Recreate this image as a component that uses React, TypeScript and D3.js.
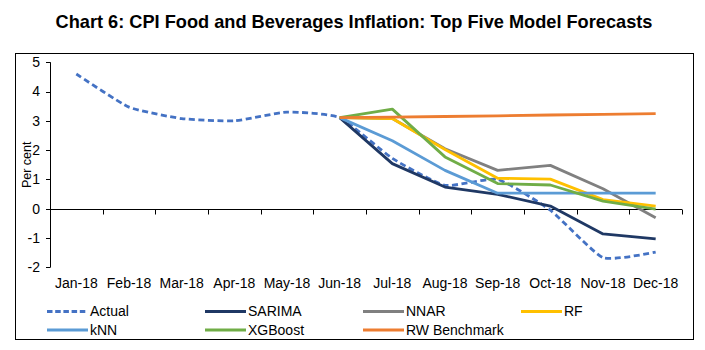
import React, { useRef, useEffect } from "react";
import { select, scaleBand, scaleLinear, line, curveCardinal, curveLinear } from "d3";

// months on the x axis
const months = [
  "Jan-18", "Feb-18", "Mar-18", "Apr-18", "May-18", "Jun-18",
  "Jul-18", "Aug-18", "Sep-18", "Oct-18", "Nov-18", "Dec-18",
];
const forecastMonths = months.slice(5);

const actual = [4.6, 3.47, 3.08, 3.0, 3.3, 3.11, 1.72, 0.8, 1.0, -0.05, -1.67, -1.48];
const sarima = [3.11, 1.54, 0.74, 0.49, 0.09, -0.86, -1.03];
const nnar = [3.11, 3.08, 2.05, 1.31, 1.48, 0.68, -0.31];
const rf = [3.11, 3.08, 2.02, 1.04, 1.01, 0.31, 0.09];
const knn = [3.11, 2.32, 1.31, 0.53, 0.53, 0.53, 0.53];
const xgboost = [3.11, 3.4, 1.77, 0.86, 0.81, 0.26, -0.01];
const rwBenchmark = [3.11, 3.13, 3.15, 3.17, 3.2, 3.22, 3.25];

const yTicks = [5, 4, 3, 2, 1, 0, -1, -2];

const title = "Chart 6: CPI Food and Beverages Inflation: Top Five Model Forecasts";

const series = [
  { name: "Actual", months: months, values: actual, color: "#4472C4", dashed: true },
  { name: "SARIMA", months: forecastMonths, values: sarima, color: "#1F3864", dashed: false },
  { name: "NNAR", months: forecastMonths, values: nnar, color: "#808080", dashed: false },
  { name: "RF", months: forecastMonths, values: rf, color: "#FFC000", dashed: false },
  { name: "kNN", months: forecastMonths, values: knn, color: "#5B9BD5", dashed: false },
  { name: "XGBoost", months: forecastMonths, values: xgboost, color: "#70AD47", dashed: false },
  { name: "RW Benchmark", months: forecastMonths, values: rwBenchmark, color: "#ED7D31", dashed: false },
];

const W = 705;
const H = 350;
const FONT = "'Liberation Sans', Arial, sans-serif";

const App: React.FC = () => {
  const svgRef = useRef<SVGSVGElement>(null);

  useEffect(() => {
    const svg = select(svgRef.current);
    svg.selectAll("*").remove();

    const x = scaleBand<string>().domain(months).range([50, 682]).padding(0);
    const y = scaleLinear().domain([-2, 5]).range([267.3, 62.3]);
    const cx = (m: string) => x(m)! + x.bandwidth() / 2;

    // title
    svg
      .append("text")
      .attr("x", 354)
      .attr("y", 28)
      .attr("text-anchor", "middle")
      .style("font-family", FONT)
      .style("font-weight", "bold")
      .style("font-size", "18.2px")
      .attr("fill", "#000")
      .text(title);

    // plot frame
    svg
      .append("rect")
      .attr("x", 15.5)
      .attr("y", 53.5)
      .attr("width", 678)
      .attr("height", 286)
      .attr("fill", "none")
      .attr("stroke", "#000")
      .attr("stroke-width", 1);

    // y axis
    const yAxis = svg.append("g");
    yAxis
      .append("line")
      .attr("x1", 50.5)
      .attr("x2", 50.5)
      .attr("y1", y(5))
      .attr("y2", y(-2))
      .attr("stroke", "#000");
    yAxis
      .selectAll("line.tick")
      .data(yTicks)
      .join("line")
      .attr("class", "tick")
      .attr("x1", 46)
      .attr("x2", 50.5)
      .attr("y1", (d) => Math.round(y(d)) + 0.5)
      .attr("y2", (d) => Math.round(y(d)) + 0.5)
      .attr("stroke", "#000");
    yAxis
      .selectAll("text")
      .data(yTicks)
      .join("text")
      .attr("x", 40)
      .attr("y", (d) => y(d))
      .attr("dy", "0.35em")
      .attr("text-anchor", "end")
      .style("font-family", FONT)
      .style("font-size", "14px")
      .attr("fill", "#000")
      .text((d) => String(d));

    svg
      .append("text")
      .attr("transform", `translate(31,${(y(5) + y(-2)) / 2}) rotate(-90)`)
      .attr("text-anchor", "middle")
      .style("font-family", FONT)
      .style("font-size", "12.5px")
      .attr("fill", "#000")
      .text("Per cent");

    // x axis at zero
    const y0 = Math.round(y(0)) + 0.5;
    const xAxis = svg.append("g");
    xAxis
      .append("line")
      .attr("x1", 50)
      .attr("x2", 682)
      .attr("y1", y0)
      .attr("y2", y0)
      .attr("stroke", "#000");
    const boundaries = months.map((m) => x(m)!).concat([x(months[months.length - 1])! + x.bandwidth()]);
    xAxis
      .selectAll("line.tick")
      .data(boundaries)
      .join("line")
      .attr("class", "tick")
      .attr("x1", (d) => Math.round(d) + 0.5)
      .attr("x2", (d) => Math.round(d) + 0.5)
      .attr("y1", y0)
      .attr("y2", y0 + 5)
      .attr("stroke", "#000");
    xAxis
      .selectAll("text")
      .data(months)
      .join("text")
      .attr("x", (d) => cx(d))
      .attr("y", 287.5)
      .attr("text-anchor", "middle")
      .style("font-family", FONT)
      .style("font-size", "14px")
      .attr("fill", "#000")
      .text((d) => d);

    // series lines
    series.forEach((s) => {
      const pts = s.values.map((v, i) => [cx(s.months[i]), y(v)] as [number, number]);
      const gen = line<[number, number]>()
        .x((d) => d[0])
        .y((d) => d[1])
        .curve(s.dashed ? curveCardinal.tension(0.5) : curveLinear);
      svg
        .append("path")
        .attr("d", gen(pts))
        .attr("fill", "none")
        .attr("stroke", s.color)
        .attr("stroke-width", 2.8)
        .attr("stroke-linejoin", "round")
        .attr("stroke-dasharray", s.dashed ? "6,3.5" : null);
    });

    // legend
    const legendCols = [47, 205, 363, 521];
    const legendRows = [311.5, 330];
    series.forEach((s, i) => {
      const col = i < 4 ? i : i - 4;
      const row = i < 4 ? 0 : 1;
      const lx = legendCols[col];
      const ly = legendRows[row];
      svg
        .append("line")
        .attr("x1", lx)
        .attr("x2", lx + 41)
        .attr("y1", ly)
        .attr("y2", ly)
        .attr("stroke", s.color)
        .attr("stroke-width", 2.8)
        .attr("stroke-dasharray", s.dashed ? "5.5,2.7" : null);
      svg
        .append("text")
        .attr("x", lx + 43)
        .attr("y", ly)
        .attr("dy", "0.35em")
        .style("font-family", FONT)
        .style("font-size", "14px")
        .attr("fill", "#000")
        .text(s.name);
    });
  }, []);

  return (
    <div style={{ position: "absolute", left: 0, top: 0 }}>
      <svg ref={svgRef} width={W} height={H} style={{ display: "block", background: "#fff" }} />
    </div>
  );
};

export default App;
